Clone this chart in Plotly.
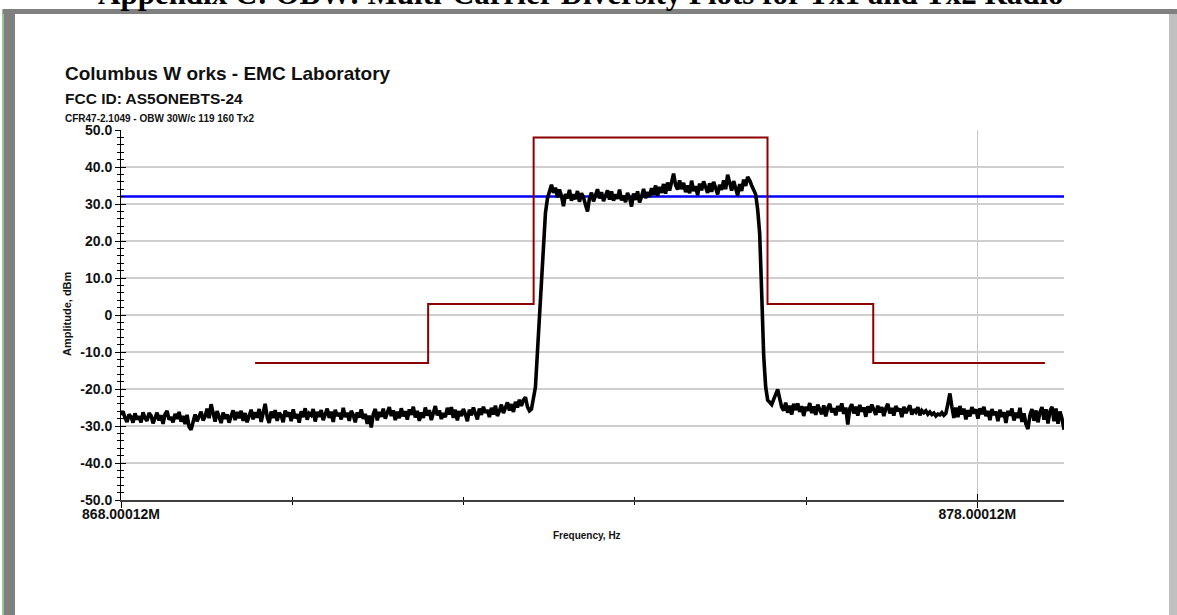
import numpy as np
import plotly.graph_objects as go

# ---------------------------------------------------------------- data
F_START = 868.00012   # MHz, left edge of the sweep
F_STOP = 879.0126     # MHz, right edge of the sweep

# Measured spectrum (dBm), one reading per sweep point
floor_low = [
    -27.0, -26.0, -27.8, -28.9, -26.9, -27.5, -29.1, -26.6, -28.2, -27.4,
    -29.0, -26.3, -27.9, -28.6, -26.5, -27.2, -29.3, -27.8, -26.4, -28.5,
    -27.1, -29.4, -26.8, -25.9, -28.3, -27.6, -29.0, -26.7, -28.1, -26.2,
    -28.8, -27.3, -29.5, -27.0, -30.2, -31.0, -28.4, -26.9, -28.7, -27.2,
    -26.1, -28.5, -27.4, -25.3, -27.9, -24.1, -26.6, -28.8, -26.0, -27.7,
    -29.2, -26.4, -28.0, -26.9, -29.1, -27.3, -25.8, -28.4, -26.2, -27.9,
    -25.9, -28.6, -26.5, -29.0, -27.1, -25.6, -28.2, -26.3, -27.7, -25.4,
    -28.9, -26.0, -24.0, -27.5, -29.2, -26.1, -27.8, -25.7, -28.6, -26.4,
    -27.2, -29.0, -25.8, -27.4, -26.3, -28.7, -25.5, -27.9, -26.8, -29.1,
    -26.0, -27.6, -25.2, -28.3, -26.6, -27.1, -25.4, -28.8, -26.2, -27.5,
    -25.7, -28.4, -26.9, -25.3, -27.8, -26.1, -28.9, -25.6, -27.3, -26.5,
    -28.2, -25.1, -27.6, -26.4, -28.6, -25.9, -27.0, -29.0, -26.3, -27.7,
    -25.5, -28.1, -26.7, -29.4, -27.2, -30.4, -26.8, -25.4, -28.5, -26.2,
    -27.5, -25.3, -28.0, -26.6, -24.9, -27.3, -25.8, -28.4, -26.1, -27.9,
    -25.2, -27.4, -26.0, -28.3, -25.5, -27.0, -24.8, -27.7, -25.9, -28.6,
    -26.3, -27.8, -25.0, -27.2, -25.7, -28.4, -26.2, -24.6, -27.1, -25.8,
    -28.1, -26.5, -27.6, -25.1, -26.9, -24.9, -27.8, -25.6, -28.5, -26.0,
    -27.3, -25.4, -26.8, -28.7, -25.6, -27.1, -25.0, -26.6, -28.2, -25.3,
    -27.0, -24.8, -26.4, -25.7, -27.6, -25.1, -26.9, -24.5, -27.3, -25.9,
    -24.2, -26.5, -25.0, -23.6, -25.8, -24.1, -26.2, -23.5, -25.0, -22.9,
    -24.6, -23.0, -22.2, -24.8, -25.9, -25.4,
]
edge_rise = [-22.5, -19.5, -10.0, 0.0, 9.5, 19.0, 27.6, 31.5]
in_band = [
    33.6, 35.2, 33.0, 34.4, 31.8, 33.9, 32.2, 29.4, 32.7, 31.5,
    33.8, 30.9, 32.6, 31.3, 33.5, 30.6, 32.9, 31.8, 29.8, 28.0,
    31.6, 33.1, 30.7, 32.4, 34.0, 31.5, 33.2, 30.8, 32.1, 33.7,
    31.2, 33.4, 30.9, 32.6, 31.4, 33.9, 31.0, 32.3, 30.5, 33.0,
    31.7, 29.3, 32.8, 31.1, 33.4, 30.4, 32.0, 34.1, 31.6, 33.2,
    31.9, 34.3, 32.5, 35.0, 32.2, 34.6, 33.0, 35.4, 32.8, 35.8,
    33.6, 36.2, 38.2, 35.1, 33.9, 36.4, 34.0, 35.7, 33.2, 35.0,
    32.9, 36.3, 33.5, 34.8, 32.4, 35.5, 33.7, 36.1, 34.2, 33.0,
    35.6, 33.3, 36.0, 34.4, 32.6, 35.2, 33.8, 36.4, 34.0, 37.9,
    35.3, 33.6, 36.2, 34.1, 32.3, 35.4, 33.5, 36.6, 34.9, 37.3,
    36.4, 35.0, 33.9,
]
edge_fall = [32.6, 28.5, 22.0, 6.0, -11.0, -19.5, -23.0]
floor_high = [
    -23.6, -24.2, -22.8, -21.4, -20.1, -22.6, -24.9, -25.8, -23.7, -26.4,
    -24.5, -26.9, -24.0, -25.7, -23.9, -26.2, -24.6, -27.3, -24.8, -25.9,
    -23.8, -26.5, -24.7, -27.0, -24.2, -25.6, -26.8, -24.4, -27.4, -25.1,
    -24.0, -26.3, -25.2, -27.1, -24.6, -26.0, -23.9, -26.7, -25.0, -29.6,
    -25.3, -24.1, -26.6, -24.8, -27.2, -24.3, -26.1, -25.0, -27.5, -24.7,
    -26.4, -24.2, -25.8, -27.0, -24.5, -26.3, -24.9, -27.3, -25.2, -24.0,
    -26.6, -25.1, -27.2, -24.6, -26.0, -25.3, -27.6, -24.8, -26.5, -25.6,
    -24.4, -26.9, -25.5, -26.2, -24.9, -27.1, -25.8, -26.4, -25.9, -26.8,
    -26.2, -26.9, -26.5, -27.3, -26.8, -27.0, -26.4, -27.1, -26.6, -24.0,
    -21.2, -24.8, -27.8, -25.0, -27.6, -24.6, -26.9, -25.3, -28.2, -25.7,
    -27.4, -24.9, -26.6, -25.5, -28.0, -25.2, -26.8, -24.8, -27.3, -25.9,
    -28.4, -25.4, -27.0, -26.1, -28.7, -25.6, -27.5, -26.3, -29.2, -25.9,
    -27.2, -25.3, -28.5, -26.4, -27.8, -25.1, -28.9, -26.6, -29.5, -30.8,
    -27.0, -25.4, -28.6, -25.8, -29.0, -26.2, -24.9, -28.3, -25.5, -29.3,
    -26.0, -24.8, -28.7, -25.3, -29.4, -26.1, -28.0, -31.0,
]
amplitude_dbm = floor_low + edge_rise + in_band + edge_fall + floor_high
freq_mhz = np.linspace(F_START, F_STOP, len(amplitude_dbm))

# Emission mask: segment edges (MHz) and limit levels (dBm)
mask_edges_mhz = [869.566, 871.587, 872.819, 875.550, 876.785, 878.79]
mask_levels_dbm = [-13, 3, 48, 3, -13]

ref_level_dbm = 32.0

y_tick_vals = [50, 40, 30, 20, 10, 0, -10, -20, -30, -40, -50]
y_tick_text = ["50.0", "40.0", "30.0", "20.0", "10.0", "0",
               "-10.0", "-20.0", "-30.0", "-40.0", "-50.0"]
x_tick_vals = [868.00012, 878.00012]
x_tick_text = ["868.00012M", "878.00012M"]

# ---------------------------------------------------------------- layout helpers
W, H = 1177, 615
ML, MR, MT, MB = 121, 113, 130, 115
PW, PH = W - ML - MR, H - MT - MB


def px(xp):
    return (xp - ML) / PW


def py(yp):
    return (H - MB - yp) / PH


FONT = "Liberation Sans, Arial, sans-serif"

fig = go.Figure()

fig.add_trace(go.Scatter(
    x=[F_START, F_STOP], y=[ref_level_dbm, ref_level_dbm],
    mode="lines", line=dict(color="#0000ff", width=2.5),
    showlegend=False, hoverinfo="skip"))

fig.add_trace(go.Scatter(
    x=mask_edges_mhz, y=mask_levels_dbm + [mask_levels_dbm[-1]],
    mode="lines", line=dict(color="#8b0000", width=2, shape="hv"),
    showlegend=False, hoverinfo="skip"))

fig.add_trace(go.Scatter(
    x=freq_mhz, y=amplitude_dbm,
    mode="lines", line=dict(color="#000000", width=3.6),
    showlegend=False))

# empty trace so the tick-only overlay axes get drawn
fig.add_trace(go.Scatter(x=[None], y=[None], xaxis="x2", yaxis="y2",
                         showlegend=False, hoverinfo="skip"))

common_x = dict(range=[F_START, F_STOP], zeroline=False)
common_y = dict(range=[-50, 50], zeroline=False)

fig.update_layout(
    width=W, height=H,
    margin=dict(l=ML, r=MR, t=MT, b=MB),
    paper_bgcolor="white", plot_bgcolor="white",
    xaxis=dict(
        **common_x,
        tickmode="array", tickvals=x_tick_vals, ticktext=x_tick_text,
        ticks="outside", ticklen=6, tickcolor="#000", tickwidth=1,
        ticklabelstandoff=-6,
        tickfont=dict(family=FONT, size=14, color="#111", weight="bold"),
        showgrid=True, gridcolor="#c4c4c4", gridwidth=1,
        showline=True, linecolor="#404040", linewidth=2,
        minor=dict(tickmode="linear", tick0=F_START, dtick=2,
                   ticks="outside", ticklen=3, tickcolor="#000", showgrid=False),
    ),
    yaxis=dict(
        **common_y,
        tickmode="array", tickvals=y_tick_vals, ticktext=y_tick_text,
        ticks="outside", ticklen=5, tickcolor="#000", tickwidth=1,
        tickfont=dict(family=FONT, size=14, color="#111", weight="bold"),
        showgrid=True, gridcolor="#cfcfcf", gridwidth=2,
        showline=True, linecolor="#000", linewidth=1,
        minor=dict(tickmode="linear", tick0=-50, dtick=2,
                   ticks="outside", ticklen=3, tickcolor="#000", showgrid=False),
    ),
    xaxis2=dict(
        **common_x, overlaying="x", anchor="y",
        tickmode="array", tickvals=x_tick_vals, showticklabels=False,
        ticks="inside", ticklen=6, tickcolor="#000", showgrid=False,
        showline=False,
        minor=dict(tickmode="linear", tick0=F_START, dtick=2,
                   ticks="inside", ticklen=3, tickcolor="#000", showgrid=False),
    ),
    yaxis2=dict(
        **common_y, overlaying="y", anchor="x",
        tickmode="array", tickvals=y_tick_vals, showticklabels=False,
        ticks="inside", ticklen=5, tickcolor="#000", showgrid=False,
        showline=False,
        minor=dict(tickmode="linear", tick0=-50, dtick=2,
                   ticks="inside", ticklen=3, tickcolor="#000", showgrid=False),
    ),
)

# ---------------------------------------------------------------- page frame
frame = [
    dict(x0=px(2.5), x1=px(3.5), y0=py(615), y1=py(9), fillcolor="#2e8b2e"),
    dict(x0=px(4), x1=px(15), y0=py(615), y1=py(13), fillcolor="#808080"),
    dict(x0=px(3), x1=px(1177), y0=py(14), y1=py(9), fillcolor="#808080"),
    dict(x0=px(1169), x1=px(1177), y0=py(615), y1=py(14), fillcolor="#c0c0c0"),
]
for s in frame:
    fig.add_shape(type="rect", xref="paper", yref="paper", line_width=0,
                  layer="above", **s)

# ---------------------------------------------------------------- text
def note(text, xp, yp, size, family=FONT, xanchor="left", yanchor="middle",
         angle=0, color="#111"):
    fig.add_annotation(
        text=text, xref="paper", yref="paper", x=px(xp), y=py(yp),
        xanchor=xanchor, yanchor=yanchor, showarrow=False, textangle=angle,
        font=dict(family=family, size=size, color=color, weight="bold"))


note("Appendix C: OBW: Multi-Carrier Diversity Plots for Tx1 and Tx2 Radio",
     96, -7, 31, family="Liberation Serif, Times New Roman, serif", color="#000")
note("Columbus W orks - EMC Laboratory", 63, 73, 19)
note("FCC ID: AS5ONEBTS-24", 63, 98, 15.5)
note("CFR47-2.1049 - OBW 30W/c 119 160 Tx2", 63, 118, 10)
note("Amplitude, dBm", 67, 314, 11, xanchor="center", angle=-90)
note("Frequency, Hz", 587, 535, 10, xanchor="center")

fig.write_html("out.html")
